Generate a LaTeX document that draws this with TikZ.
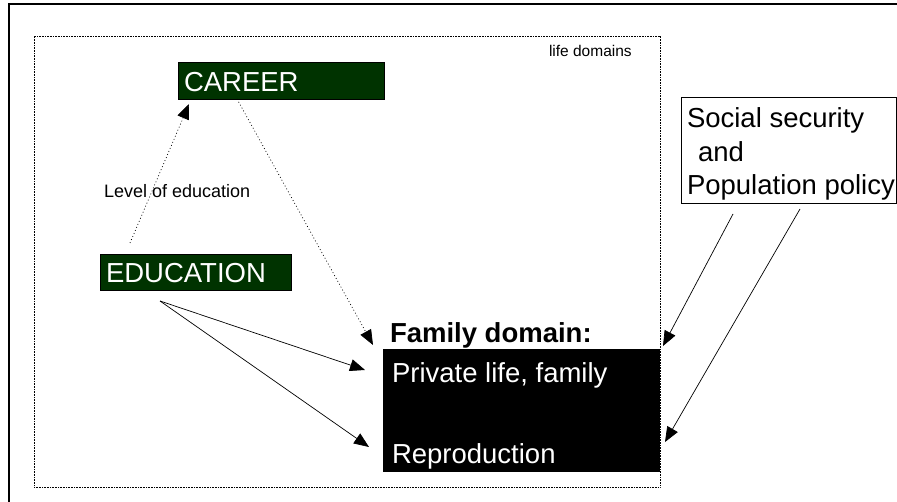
\documentclass[tikz,border=0pt]{standalone}
\usepackage{fontspec}
\setmainfont{Liberation Sans}
\usetikzlibrary{arrows.meta}
\definecolor{dkgreen}{RGB}{0,51,0}
\tikzset{
  box/.style={anchor=north west, inner sep=0pt, outer sep=0pt},
  greenbox/.style={box, fill=dkgreen, draw=black, line width=0.6pt},
  txt/.style={anchor=base west, inner sep=0pt, outer sep=0pt},
  big/.style={font=\fontsize{27.5}{30}\selectfont},
  conn/.style={line width=0.7pt, -{Triangle[length=15pt,width=12pt]}},
  dotconn/.style={conn, dash pattern=on 0.9pt off 2.4pt},
}
\begin{document}
\begin{tikzpicture}[x=1pt,y=-1pt]
\useasboundingbox (0,0) rectangle (897,502);
% outer frame (only top and left visible)
\draw[line width=1.8pt] (9,502) -- (9,4) -- (897,4);
% life domains dotted rectangle
\node[box, draw, dash pattern=on 0.8pt off 0.8pt, line width=0.8pt, minimum width=626pt, minimum height=451pt] (life) at (34,36) {};
\node[txt, font=\fontsize{15.5}{17}\selectfont] (lifetxt) at (549,57) {life domains};
% career
\node[greenbox, minimum width=206pt, minimum height=37pt] (career) at (178,62) {};
\node[txt, big, text=white] (careertxt) at (184,92) {CAREER};
% education
\node[greenbox, minimum width=191pt, minimum height=36pt] (edu) at (100,254) {};
\node[txt, big, text=white] (edutxt) at (106,283) {EDUCATION};
% level of education label
\node[txt, font=\fontsize{18}{20}\selectfont] (leveltxt) at (104,198) {Level of education};
% family domain
\node[txt, big, font=\fontsize{27.5}{30}\selectfont\bfseries] (famlabel) at (390,343) {Family domain:};
\node[box, fill=black, minimum width=277pt, minimum height=123pt] (fam) at (383,349) {};
\node[txt, big, text=white] (privtxt) at (392,383) {Private life, family};
\node[txt, big, text=white] (reprotxt) at (392,463) {Reproduction};
% social security
\node[box, draw=black, line width=0.8pt, minimum width=215pt, minimum height=106pt] (soc) at (681,97) {};
\node[txt, big] (soc1) at (687,128) {Social security};
\node[txt, big] (soc2) at (698,162) {and};
\node[txt, big] (soc3) at (687,195) {Population policy};
% connectors
\draw[dotconn] ([xshift=30pt,yshift=11pt]edu.north west) -- ([xshift=11pt,yshift=-5pt]career.south west);
\draw[dotconn] ([xshift=59pt]career.south west) -- ([xshift=-10pt,yshift=4pt]fam.north west);
\draw[conn] ([xshift=60pt,yshift=-11pt]edu.south west) -- ([xshift=-18pt,yshift=-21pt]fam.north west);
\draw[conn] ([xshift=60pt,yshift=-11pt]edu.south west) -- ([xshift=-14pt,yshift=25pt]fam.south west);
\draw[conn] ([xshift=52pt,yshift=-11pt]soc.south west) -- ([xshift=3pt,yshift=3pt]fam.north east);
\draw[conn] ([xshift=119pt,yshift=-6pt]soc.south west) -- ([xshift=5pt,yshift=30pt]fam.south east);
\end{tikzpicture}
\end{document}
